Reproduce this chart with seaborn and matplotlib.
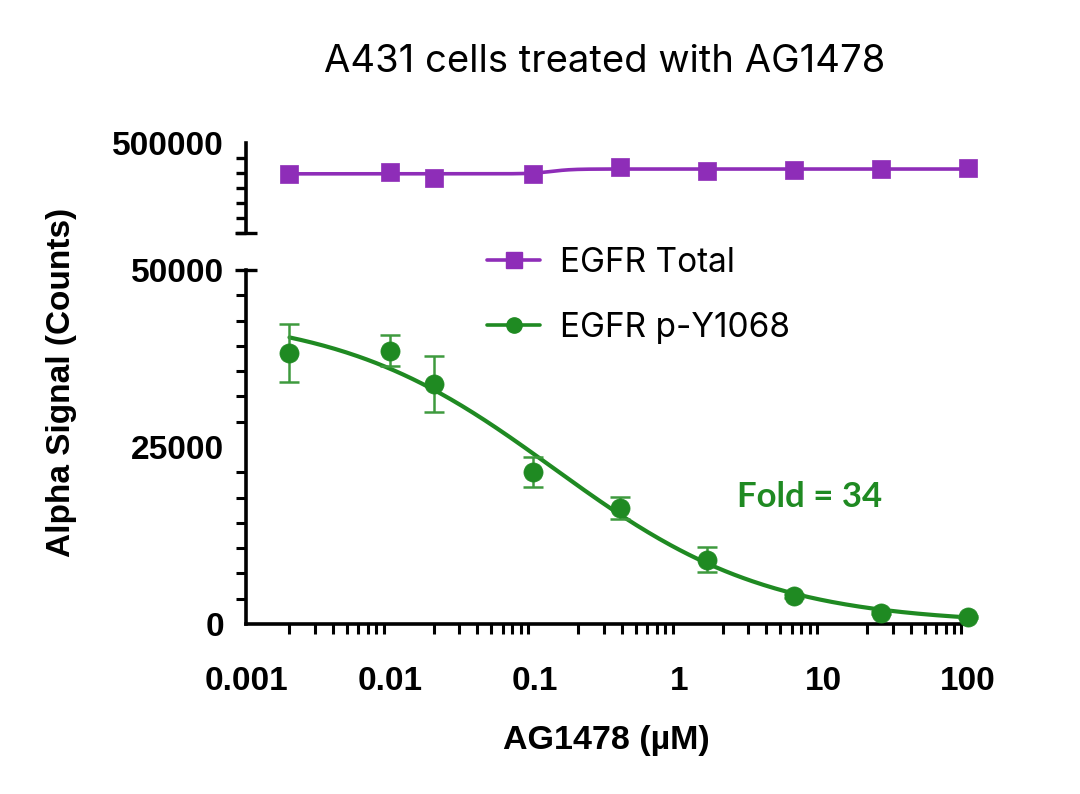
import numpy as np
import pandas as pd
import matplotlib
matplotlib.use("Agg")
import matplotlib.pyplot as plt
from matplotlib.lines import Line2D
from matplotlib.ticker import FixedLocator, NullFormatter, FuncFormatter
import seaborn as sns

# AG1478 concentrations (uM)
conc = [0.002, 0.01, 0.02, 0.0977, 0.39, 1.56, 6.25, 25, 100]
# EGFR Total signal (counts)
egfr_total = [448900, 451700, 441700, 448900, 460000, 452700, 455500, 456700, 458300]
# EGFR p-Y1068 signal (counts) and error
py1068 = [38300, 38600, 33900, 21500, 16400, 9100, 4000, 1600, 1000]
py1068_err = [4100, 2200, 3900, 2100, 1600, 1800, 300, 200, 200]

# 4PL fit parameters (low = value at low conc)
total_fit = {"low": 448500, "high": 456500, "ec50": 0.13, "hill": 6}
py_fit = {"low": 44000, "high": 0, "ec50": 0.135, "hill": 0.58}

x_ticks = [0.001, 0.01, 0.1, 1, 10, 100]
x_labels = ["0.001", "0.01", "0.1", "1", "10", "100"]

purple = "#8E2DB8"
green = "#1F8A22"


def fourpl(x, p):
    x = np.asarray(x)
    return p["low"] + (p["high"] - p["low"]) * x ** p["hill"] / (x ** p["hill"] + p["ec50"] ** p["hill"])


sns.set_style("white")
plt.rcParams["font.family"] = ["Liberation Sans", "DejaVu Sans"]
plt.rcParams["text.color"] = "black"
plt.rcParams["xtick.color"] = "black"
plt.rcParams["ytick.color"] = "black"

df = pd.DataFrame({"conc": conc, "total": egfr_total, "py": py1068, "err": py1068_err})
xfit = np.logspace(np.log10(conc[0]), np.log10(conc[-1]), 300)
fit_df = pd.DataFrame({"conc": xfit, "total": fourpl(xfit, total_fit), "py": fourpl(xfit, py_fit)})

fig = plt.figure(figsize=(10.8, 7.94), dpi=100)
ax_top = fig.add_axes([0.2278, 0.7066, 0.6685, 0.1134])
ax = fig.add_axes([0.2278, 0.2141, 0.6685, 0.4458], sharex=ax_top)

lw_spine = 2.6
for a in (ax, ax_top):
    a.set_xscale("log")
    for s in ["top", "right"]:
        a.spines[s].set_visible(False)
    for s in ["left", "bottom"]:
        a.spines[s].set_linewidth(lw_spine)
        a.spines[s].set_color("black")
ax_top.spines["bottom"].set_visible(False)

# top panel: EGFR Total
sns.lineplot(data=fit_df, x="conc", y="total", ax=ax_top, color=purple, lw=2.6, legend=False)
sns.scatterplot(data=df, x="conc", y="total", ax=ax_top, color=purple, marker="s", s=160,
                edgecolor=purple, linewidth=0.5, zorder=5, clip_on=False, legend=False)
ax_top.set_ylim(350000, 500000)
ax_top.yaxis.set_major_locator(FixedLocator([500000]))
ax_top.yaxis.set_minor_locator(FixedLocator(np.arange(350000, 500000, 25000)))
ax_top.yaxis.set_major_formatter(FuncFormatter(lambda v, p: f"{v:.0f}"))
ax_top.tick_params(axis="x", which="both", bottom=False, labelbottom=False)
ax_top.tick_params(axis="y", which="major", length=13, width=2.4, labelsize=24, pad=3)
ax_top.tick_params(axis="y", which="minor", left=True, length=7, width=2.4)
ax_top.set_xlabel("")
ax_top.set_ylabel("")
ax_top.plot([-0.015, 0.015], [0, 0], transform=ax_top.transAxes, color="black",
            lw=2.4, clip_on=False, solid_capstyle="butt")

# bottom panel: EGFR p-Y1068
ax.errorbar(df["conc"], df["py"], yerr=df["err"], fmt="none", ecolor="#3E9A3E",
            elinewidth=1.8, capsize=7, capthick=1.8, zorder=3, clip_on=False)
sns.lineplot(data=fit_df, x="conc", y="py", ax=ax, color=green, lw=3.0, legend=False)
sns.scatterplot(data=df, x="conc", y="py", ax=ax, color=green, marker="o", s=190,
                edgecolor=green, linewidth=0.5, zorder=5, clip_on=False, legend=False)
ax.set_xlim(0.001, 100)
ax.set_ylim(0, 50000)
ax.yaxis.set_major_locator(FixedLocator([0, 25000, 50000]))
ax.yaxis.set_minor_locator(FixedLocator(np.linspace(0, 50000, 15)))
ax.yaxis.set_major_formatter(FuncFormatter(lambda v, p: f"{v:.0f}"))
ax.xaxis.set_major_locator(FixedLocator(x_ticks))
ax.set_xticklabels(x_labels)
ax.xaxis.set_minor_locator(FixedLocator([m * 10.0 ** e for e in range(-3, 2) for m in range(2, 10)]))
ax.xaxis.set_minor_formatter(NullFormatter())
ax.tick_params(axis="both", which="major", length=13, width=2.4, labelsize=24, pad=3)
ax.tick_params(axis="both", which="minor", bottom=True, left=True, length=7, width=2.2)
ax.tick_params(axis="x", which="major", pad=17)
ax.plot([-0.015, 0.015], [1, 1], transform=ax.transAxes, color="black",
        lw=2.4, clip_on=False, solid_capstyle="butt")
for lab in ax.get_xticklabels() + ax.get_yticklabels() + ax_top.get_yticklabels():
    lab.set_fontweight("bold")
ax.set_xlabel("")
ax.set_ylabel("")

ax.text(2.5, 18000, "Fold = 34", color=green, fontsize=25, fontweight="bold",
        family=["Lato", "DejaVu Sans"], va="center", ha="left")

handles = [
    Line2D([], [], color=purple, lw=2.6, marker="s", ms=11),
    Line2D([], [], color=green, lw=2.6, marker="o", ms=11),
]
fig.legend(handles, ["EGFR Total", "EGFR p-Y1068"], loc="center left",
           bbox_to_anchor=(0.423, 0.628), frameon=False, handlelength=1.6,
           handletextpad=0.58, labelspacing=1.0,
           prop={"family": ["Inter", "DejaVu Sans"], "size": 24})

fig.text(0.560, 0.922, "A431 cells treated with AG1478", ha="center", va="center",
         fontsize=27.5, family=["Inter", "DejaVu Sans"])
fig.text(0.057, 0.518, "Alpha Signal (Counts)", rotation=90, ha="center", va="center",
         fontsize=24, fontweight="bold")
fig.text(0.561, 0.068, "AG1478 (\u00b5M)", ha="center", va="center",
         fontsize=24.5, fontweight="bold")

fig.savefig("out.png", dpi=100)
